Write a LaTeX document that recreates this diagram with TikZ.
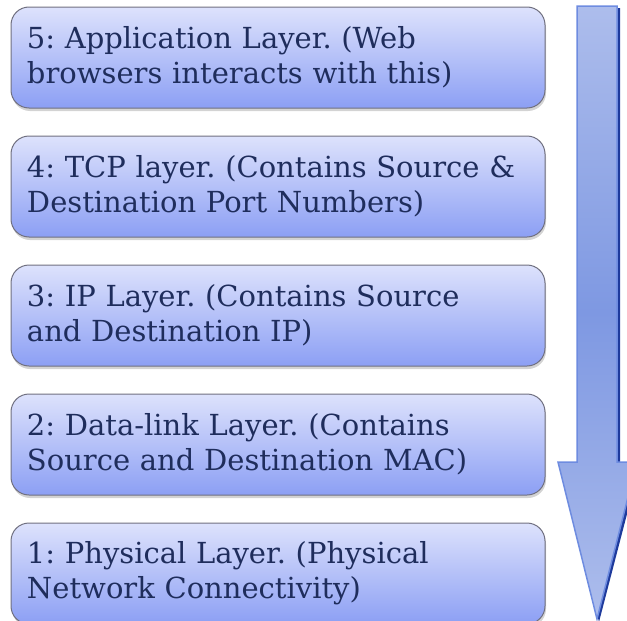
\documentclass[tikz,border=0pt]{standalone}
\usepackage{fontspec}
\setmainfont{DejaVu Serif}
\usetikzlibrary{positioning,shadows}
\frenchspacing

\definecolor{boxtop}{HTML}{DDE2FC}
\definecolor{boxbot}{HTML}{8C9FF4}
\definecolor{boxline}{HTML}{707080}
\definecolor{laytext}{HTML}{1F2D5C}
\definecolor{arrlight}{HTML}{ADBDEC}
\definecolor{arrmid}{HTML}{7E98E2}
\definecolor{arrline}{HTML}{6E8CE0}
\definecolor{arrdark}{HTML}{1E3A9C}

\begin{document}
\begin{tikzpicture}[x=1pt,y=1pt,node distance=27pt,
    layer/.style={draw=boxline,line width=1pt,rounded corners=18pt,
        top color=boxtop,bottom color=boxbot,
        drop shadow={shadow xshift=1pt,shadow yshift=-3pt,opacity=0.35},
        text width=502pt,inner xsep=16pt,minimum height=101pt,
        align=left,text=laytext,
        font=\fontsize{29}{35}\selectfont}]

    \useasboundingbox (0,0) rectangle (627,-621);

    \node[layer] (l5) at (278,-57.5) {5: Application Layer. (Web\\browsers interacts with this)};
    \node[layer] (l4) [below=of l5] {4: TCP layer. (Contains Source \&\\Destination Port Numbers)};
    \node[layer] (l3) [below=of l4] {3: IP Layer. (Contains Source\\and Destination IP)};
    \node[layer] (l2) [below=of l3] {2: Data-link Layer. (Contains\\Source and Destination MAC)};
    \node[layer] (l1) [below=of l2] {1: Physical Layer. (Physical\\Network Connectivity)};

    % big arrow down the side
    \fill[arrdark] (580,-8) -- (620,-8) -- (620,-464) -- (640,-464) -- (599,-622) -- (561,-464) -- (580,-464) -- cycle;
    \path[draw=arrline,line width=1.5pt,top color=arrlight,bottom color=arrlight,middle color=arrmid]
        (577,-6) -- (617,-6) -- (617,-462) -- (637,-462) -- (597,-619) -- (558,-462) -- (577,-462) -- cycle;
\end{tikzpicture}
\end{document}
